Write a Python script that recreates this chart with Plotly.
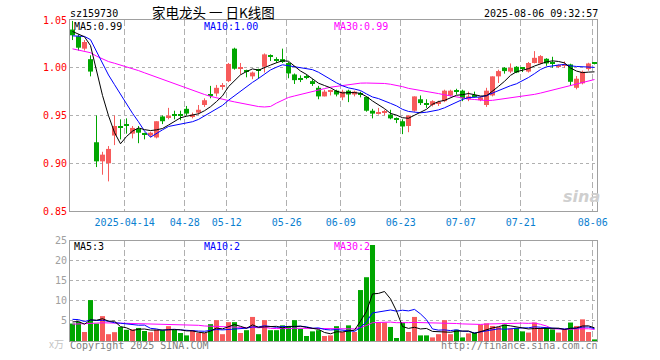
import pandas as pd
import plotly.graph_objects as go

# ---------------- data ----------------
tick_idx = [9, 19, 26, 36, 45, 55, 65, 75, 87]
tick_text = ["2025-04-14", "04-28", "05-12", "05-26", "06-09", "06-23", "07-07", "07-21", "08-06"]

open_ = [1.040, 1.033, 1.020, 1.009, 0.922, 0.902, 0.900, 0.929, 0.9375, 0.9405,
         0.931, 0.936, 0.931, 0.929, 0.927, 0.949, 0.948, 0.951, 0.9505, 0.957,
         0.949, 0.953, 0.961, 0.972, 0.973, 0.980, 0.986, 1.020, 0.999, 0.997,
         0.991, 0.998, 1.001, 1.013, 1.009, 1.009, 1.005, 0.993, 0.989, 0.991,
         0.986, 0.979, 0.970, 0.975, 0.976, 0.969, 0.976, 0.972, 0.973, 0.9695,
         0.955, 0.952, 0.953, 0.951, 0.947, 0.944, 0.939, 0.955, 0.967, 0.962,
         0.961, 0.963, 0.965, 0.971, 0.976, 0.976, 0.967, 0.971, 0.966, 0.961,
         0.971, 0.991, 1.000, 0.996, 1.001, 0.9992, 0.996, 1.005, 1.0045, 1.0094,
         1.005, 1.0015, 1.002, 1.0035, 0.979, 0.9837, 0.9986, 1.0052]
high = [1.049, 1.035, 1.029, 1.013, 0.950, 0.912, 0.918, 0.950, 0.946, 0.947,
        0.939, 0.939, 0.932, 0.933, 0.944, 0.950, 0.958, 0.955, 0.955, 0.960,
        0.953, 0.961, 0.968, 0.981, 0.982, 0.984, 1.005, 1.021, 1.005, 0.998,
        0.996, 0.999, 1.015, 1.014, 1.011, 1.020, 1.006, 0.994, 0.992, 0.993,
        0.988, 0.981, 0.977, 0.977, 0.977, 0.977, 0.977, 0.976, 0.975, 0.970,
        0.957, 0.958, 0.956, 0.956, 0.948, 0.946, 0.950, 0.970, 0.971, 0.967,
        0.966, 0.9655, 0.977, 0.977, 0.978, 0.977, 0.975, 0.975, 0.970, 0.979,
        0.991, 0.998, 1.0007, 1.0045, 1.0017, 1.000, 1.006, 1.0174, 1.0132, 1.010,
        1.0115, 1.0035, 1.0066, 1.0042, 0.9913, 0.997, 1.0052, 1.006]
low = [1.029, 1.018, 1.018, 0.991, 0.896, 0.888, 0.881, 0.919, 0.925, 0.931,
       0.926, 0.921, 0.925, 0.927, 0.926, 0.941, 0.946, 0.946, 0.945, 0.950,
       0.947, 0.951, 0.959, 0.968, 0.970, 0.977, 0.985, 0.998, 0.993, 0.990,
       0.988, 0.9885, 0.995, 1.007, 1.005, 1.005, 0.989, 0.983, 0.985, 0.988,
       0.981, 0.967, 0.970, 0.971, 0.970, 0.966, 0.964, 0.970, 0.969, 0.954,
       0.947, 0.951, 0.950, 0.946, 0.942, 0.9305, 0.9325, 0.954, 0.961, 0.958,
       0.9595, 0.960, 0.964, 0.970, 0.972, 0.965, 0.965, 0.969, 0.965, 0.959,
       0.970, 0.984, 0.9938, 0.9944, 0.9944, 0.9955, 0.995, 1.0045, 1.0038, 1.002,
       1.000, 0.9997, 0.9997, 0.9809, 0.9774, 0.9826, 0.9969, 1.0035]
close = [1.034, 1.021, 1.027, 0.996, 0.902, 0.909, 0.915, 0.939, 0.937, 0.940,
         0.937, 0.932, 0.930, 0.932, 0.944, 0.944, 0.950, 0.950, 0.950, 0.952,
         0.951, 0.956, 0.966, 0.971, 0.979, 0.981, 1.004, 0.999, 1.000, 0.996,
         0.995, 0.997, 1.014, 1.012, 1.008, 1.006, 0.994, 0.987, 0.988, 0.990,
         0.984, 0.970, 0.975, 0.976, 0.972, 0.975, 0.972, 0.975, 0.972, 0.955,
         0.952, 0.953, 0.954, 0.947, 0.946, 0.9385, 0.950, 0.970, 0.963, 0.961,
         0.965, 0.964, 0.976, 0.976, 0.975, 0.968, 0.970, 0.970, 0.969, 0.976,
         0.991, 0.9965, 0.9965, 1.000, 0.995, 0.9988, 1.005, 1.0104, 1.0122, 1.0045,
         1.004, 1.0018, 1.003, 0.9853, 0.9885, 0.9958, 1.0045, 1.0045]
volume = [4.35, 4.75, 2.25, 10.2, 4.35, 6.2, 1.7, 2.2, 3.5, 2.8,
          2.9, 3.25, 2.5, 2.2, 2.8, 2.7, 3.7, 2.8, 2.0, 1.4,
          2.7, 2.0, 2.0, 4.2, 5.2, 1.7, 4.7, 4.7, 2.0, 2.7,
          6.0, 1.7, 5.2, 2.7, 2.7, 3.9, 3.7, 5.2, 3.0, 1.25,
          2.4, 2.7, 1.25, 1.4, 3.7, 2.25, 3.9, 2.25, 12.7, 15.9,
          23.9, 4.6, 4.6, 3.5, 0.75, 4.6, 2.25, 6.0, 1.4, 1.4,
          0.9, 1.7, 5.2, 1.7, 2.8, 0.9, 1.9, 2.1, 4.1, 4.4,
          3.75, 3.5, 4.1, 3.1, 3.3, 2.4, 2.1, 4.6, 3.1, 3.3,
          2.9, 2.1, 2.9, 4.6, 3.75, 5.4, 2.25, 0.4]

# sessions before the first visible candle (only feed the moving averages)
prior_close = [1.058, 1.055, 1.052, 1.010, 1.000, 0.995, 0.992, 0.990, 0.993, 0.995,
               0.998, 1.000, 1.002, 1.008, 1.012, 1.015, 1.018, 1.020, 1.022, 1.025,
               1.026, 1.028, 1.030, 1.028, 1.032, 1.036, 1.040, 1.042, 1.038]
prior_volume = [3.2, 4.1, 3.5, 2.9, 3.8, 4.4, 3.3, 3.0, 3.6, 4.2,
                3.9, 3.1, 3.4, 3.7, 4.0, 3.5, 3.2, 3.8, 3.6, 3.7,
                5.5, 7.0, 6.2, 5.8, 5.75, 4.2, 5.6, 4.8, 4.8]

price_ticks = [0.85, 0.90, 0.95, 1.00, 1.05]
vol_ticks = [5, 10, 15, 20, 25]

# ---------------- derived ----------------
n = len(close)
xs = list(range(n))
RED = "#f75b5b"
GREEN = "#00a600"
up = [c >= o for o, c in zip(open_, close)]
colors = [RED if u else GREEN for u in up]

def ma(prior, vals, w):
    s = pd.Series(prior + vals).rolling(w).mean()
    return s.iloc[len(prior):].tolist()

pma5, pma10, pma30 = (ma(prior_close, close, w) for w in (5, 10, 30))
vma5, vma10, vma30 = (ma(prior_volume, volume, w) for w in (5, 10, 30))

def wicks(flag):
    wx, wy = [], []
    for i in range(n):
        if up[i] == flag:
            wx += [xs[i], xs[i], None]
            wy += [low[i], high[i], None]
    return wx, wy

MONO = "DejaVu Sans Mono"
CJK = "Noto Sans CJK SC"

fig = go.Figure()
for flag, col in ((True, RED), (False, GREEN)):
    wx, wy = wicks(flag)
    fig.add_trace(go.Scatter(x=wx, y=wy, mode="lines", line=dict(color=col, width=1),
                             xaxis="x", yaxis="y", hoverinfo="skip"))
fig.add_trace(go.Bar(x=xs, y=[max(abs(c - o), 0.0011) for o, c in zip(open_, close)],
                     base=[min(o, c) for o, c in zip(open_, close)], width=0.84,
                     marker=dict(color=colors, line=dict(width=0)), xaxis="x", yaxis="y"))
for series, col in ((pma30, "#ff00ff"), (pma10, "#0000ff"), (pma5, "#000000")):
    fig.add_trace(go.Scatter(x=xs, y=series, mode="lines", line=dict(color=col, width=1),
                             xaxis="x", yaxis="y"))

fig.add_trace(go.Bar(x=xs, y=volume, width=0.84, marker=dict(color=colors, line=dict(width=0)),
                     xaxis="x2", yaxis="y2"))
for series, col in ((vma30, "#ff00ff"), (vma10, "#0000ff"), (vma5, "#000000")):
    fig.add_trace(go.Scatter(x=xs, y=series, mode="lines", line=dict(color=col, width=1),
                             xaxis="x2", yaxis="y2"))

L, R, T, B, W, H = 70, 63, 20, 19, 660, 360
PW, PH = W - L - R, H - T - B
xr = [-0.4167, -0.4167 + PW / 6.0]
grid_c = "#b0b0b0"
line_c = "#a0a0a0"
common_x = dict(range=xr, tickvals=[t - 0.3 for t in tick_idx], showgrid=True, gridcolor=grid_c,
                griddash="6px,3px", gridwidth=1, showline=True, linecolor=line_c, linewidth=1,
                mirror=True, ticks="", zeroline=False, fixedrange=True)
fig.update_layout(
    width=W, height=H, margin=dict(l=L, r=R, t=T, b=B),
    paper_bgcolor="white", plot_bgcolor="white", showlegend=False, barmode="overlay",
    xaxis=dict(common_x, anchor="y", ticktext=tick_text, ticklabelstandoff=2,
               tickfont=dict(family=MONO, size=10, color="#0a80d0")),
    xaxis2=dict(common_x, anchor="y2", showticklabels=False),
    yaxis=dict(domain=[(H - B - 211) / PH, 1], range=[0.85, 1.05], tickvals=price_ticks,
               ticktext=["%.2f" % v for v in price_ticks], showgrid=True, gridcolor=grid_c,
               griddash="dot", showline=True, linecolor=line_c, mirror=True, ticks="",
               zeroline=False, ticklabelstandoff=0, fixedrange=True,
               tickfont=dict(family=MONO, size=10, color="#ff0000")),
    yaxis2=dict(domain=[0, (H - B - 240.7) / PH], range=[0, 25], tickvals=vol_ticks,
                ticktext=[str(v) for v in vol_ticks], showgrid=True, gridcolor=grid_c,
                griddash="dot", showline=True, linecolor=line_c, mirror=True, ticks="",
                zeroline=False, ticklabelstandoff=0, fixedrange=True,
                tickfont=dict(family=MONO, size=10, color="#a0a0a0")),
)

def px(x):
    return (x - L) / PW

def py(y):
    return (H - B - y) / PH

def note(text, x, y, anchor="left", color="#000000", size=10, family=MONO, **kw):
    fig.add_annotation(text=text, x=px(x), y=py(y), xref="paper", yref="paper",
                       xanchor=anchor, yanchor="middle", showarrow=False, borderpad=0,
                       borderwidth=0, font=dict(family=family, size=size, color=color, **kw))

note("sz159730", 70, 13)
note("家电龙头 一 日K线图", 213.5, 12.5, anchor="center", size=13.5, family=CJK)
note("2025-08-06 09:32:57", 597.5, 13, anchor="right")
note("MA5:0.99", 74, 26)
note("MA10:1.00", 203.5, 26, color="#0000ff")
note("MA30:0.99", 334, 26, color="#ff00ff")
note("MA5:3", 74, 246)
note("MA10:2", 203.5, 246, color="#0000ff")
note("MA30:2", 334, 246, color="#ff00ff")
note("Copyright 2025 SINA.COM", 69.5, 345.5, color="#808080")
note("http://finance.sina.com.cn", 597.5, 345.5, anchor="right", color="#808080")
note("x万", 64, 343, anchor="right", color="#c4c4c4", size=10, family=CJK)
note("sina", 581, 196, anchor="center", color="#cfcfcf", size=16, family="DejaVu Sans",
     weight="bold", style="italic")

fig.write_html("out.html", config={"displayModeBar": False},
               post_script="document.body.style.margin='0px';document.body.style.overflow='hidden';")
